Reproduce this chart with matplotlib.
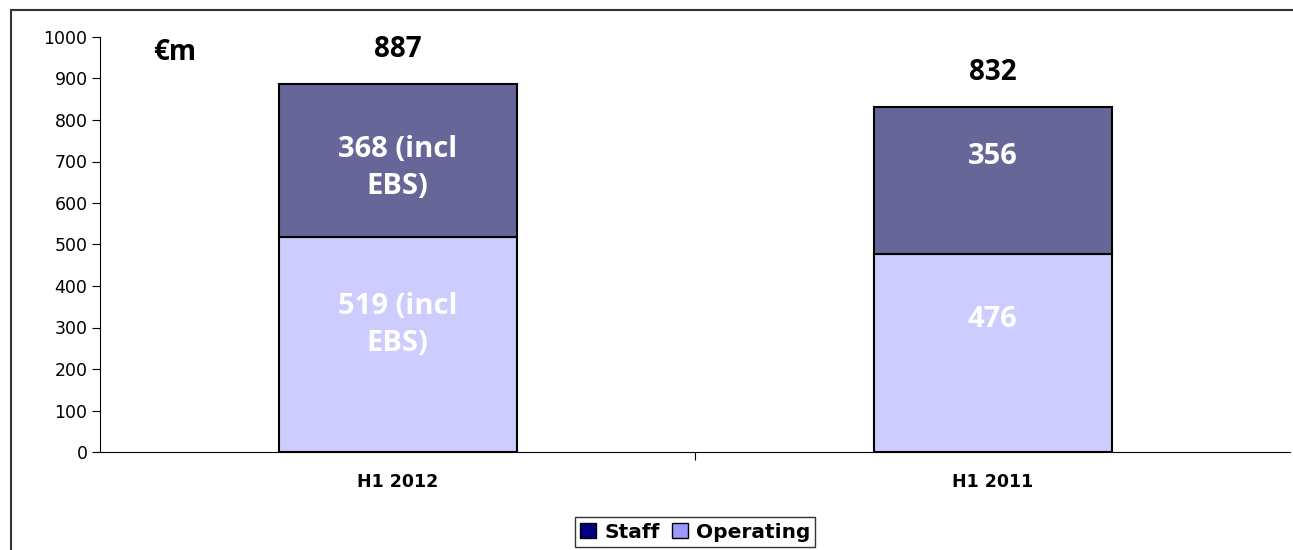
import matplotlib.pyplot as plt
from matplotlib.patches import Patch, Rectangle

periods = ["H1 2012", "H1 2011"]
operating = [519, 476]
staff = [368, 356]
operating_labels = ["519 (incl\nEBS)", "476"]
staff_labels = ["368 (incl\nEBS)", "356"]
totals = [887, 832]

# where the labels sit inside each segment (fraction of the segment height)
operating_pos = [0.59, 0.67]
staff_pos = [0.45, 0.66]

label_font = "Open Sans"

fig = plt.figure(figsize=(12.93, 5.5), dpi=100)
ax = fig.add_axes([100 / 1293, 1 - 452 / 550, 1190 / 1293, 415 / 550])

# outer chart frame (cut off on right and bottom like the source)
fig.patches.append(Rectangle((11 / 1293, -0.1), 1.2, 1 - 10 / 550 + 0.1,
                             transform=fig.transFigure, fill=False,
                             edgecolor="#333333", linewidth=1.5))

x = range(len(periods))
ax.bar(x, operating, width=0.4, color="#CCCCFF", edgecolor="black", linewidth=1.5, zorder=2)
ax.bar(x, staff, width=0.4, bottom=operating, color="#666699", edgecolor="black",
       linewidth=1.5, zorder=2)

for i in x:
    ax.text(i, operating[i] * operating_pos[i], operating_labels[i], ha="center", va="center",
            color="white", fontsize=21, fontweight="bold", family=label_font, linespacing=1.35)
    ax.text(i, operating[i] + staff[i] * staff_pos[i], staff_labels[i], ha="center", va="center",
            color="white", fontsize=21, fontweight="bold", family=label_font, linespacing=1.35)
    ax.text(i, totals[i] + 82, str(totals[i]), ha="center", va="center",
            fontsize=20, fontweight="bold", family=label_font)

ax.text(-0.374, 962, "€m", ha="center", va="center", fontsize=20, fontweight="bold",
        family=label_font)

ax.set_xlim(-0.5, 1.5)
ax.set_ylim(0, 1000)
ax.set_yticks(range(0, 1001, 100))
ax.set_xticks([0.5])
ax.set_xticklabels([""])
ax.tick_params(axis="x", length=6, direction="out")
for i in x:
    ax.text(i, -72, periods[i], ha="center", va="center", fontsize=12.5, fontweight="bold")
ax.tick_params(axis="y", labelsize=12.5, length=6, direction="out", pad=3)
ax.spines["top"].set_visible(False)
ax.spines["right"].set_visible(False)

handles = [Patch(facecolor="#000080", edgecolor="black", label="Staff"),
           Patch(facecolor="#9999FF", edgecolor="black", label="Operating")]
leg = fig.legend(handles=handles, loc="center", bbox_to_anchor=(695 / 1293, 1 - 532 / 550),
                 ncol=2, frameon=True, fancybox=False, edgecolor="black",
                 prop={"weight": "bold", "size": 14.5}, handlelength=0.8, handleheight=0.8,
                 handletextpad=0.4, columnspacing=0.6, borderpad=0.25)
leg.get_frame().set_linewidth(1)

fig.savefig("out.png", dpi=100)
